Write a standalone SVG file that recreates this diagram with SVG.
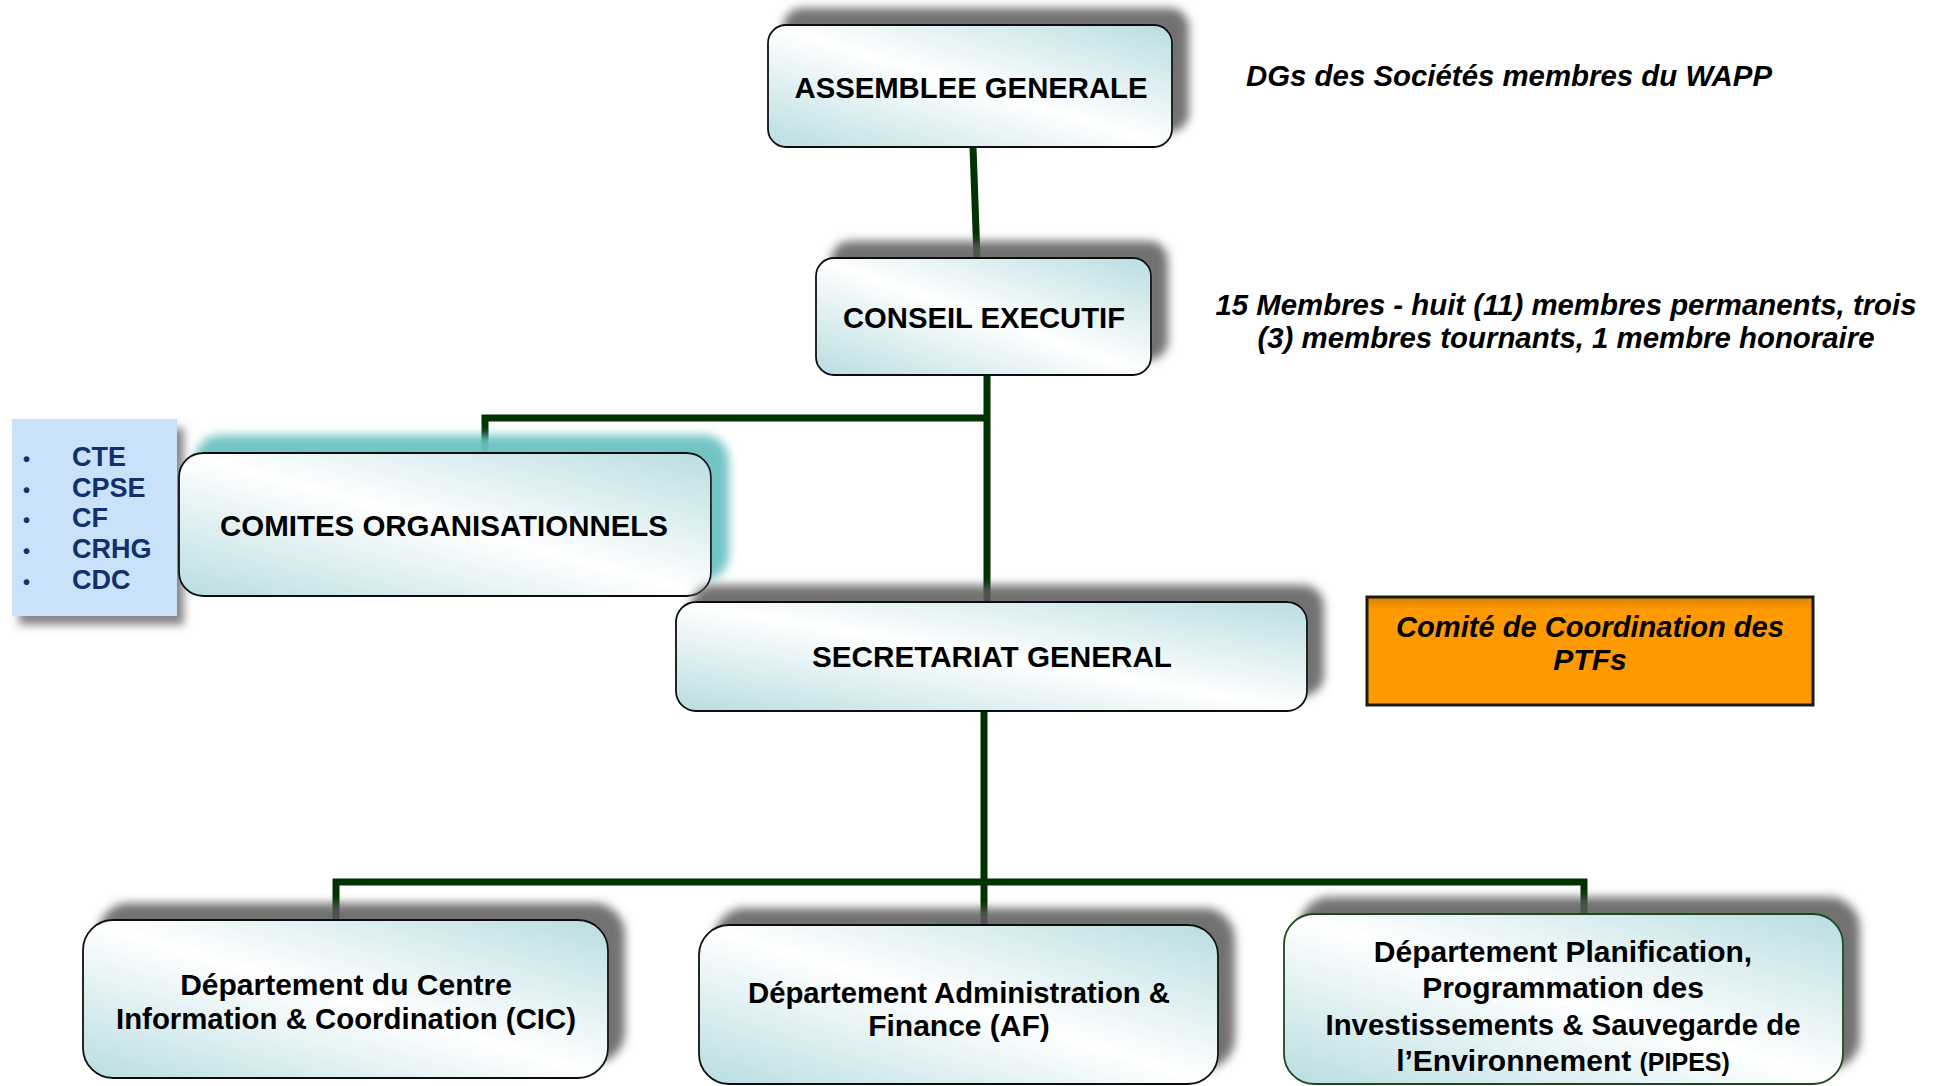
<svg xmlns="http://www.w3.org/2000/svg" width="1939" height="1086" viewBox="0 0 1939 1086">
<defs>
<linearGradient id="boxGrad" x1="0" y1="1" x2="1" y2="0">
<stop offset="0" stop-color="#B8DDE1"/>
<stop offset="0.5" stop-color="#FFFFFF"/>
<stop offset="1" stop-color="#B8DDE1"/>
</linearGradient>
<linearGradient id="orangeGrad" x1="0" y1="0" x2="0" y2="1">
<stop offset="0" stop-color="#D98200"/>
<stop offset="0.12" stop-color="#FF9900"/>
<stop offset="1" stop-color="#FF9900"/>
</linearGradient>
<filter id="shadow" x="-10%" y="-30%" width="125%" height="160%">
<feGaussianBlur in="SourceAlpha" stdDeviation="5"/>
<feOffset dx="16" dy="-16" result="b"/>
<feFlood flood-color="#5a5a5a" flood-opacity="0.85"/>
<feComposite in2="b" operator="in" result="s"/>
<feMerge><feMergeNode in="s"/><feMergeNode in="SourceGraphic"/></feMerge>
</filter>
<filter id="tealShadow" x="-10%" y="-30%" width="125%" height="160%">
<feGaussianBlur in="SourceAlpha" stdDeviation="5"/>
<feOffset dx="17" dy="-17" result="b"/>
<feFlood flood-color="#6CC2C2" flood-opacity="0.95"/>
<feComposite in2="b" operator="in" result="s"/>
<feMerge><feMergeNode in="s"/><feMergeNode in="SourceGraphic"/></feMerge>
</filter>
<filter id="listShadow" x="-20%" y="-20%" width="150%" height="150%">
<feGaussianBlur in="SourceAlpha" stdDeviation="4"/>
<feOffset dx="7" dy="9" result="b"/>
<feFlood flood-color="#555" flood-opacity="0.7"/>
<feComposite in2="b" operator="in" result="s"/>
<feMerge><feMergeNode in="s"/><feMergeNode in="SourceGraphic"/></feMerge>
</filter>
</defs>
<style>
.box{fill:url(#boxGrad);stroke:#111;stroke-width:1.8}
.lbl{font-family:"Liberation Sans",Arial,sans-serif;font-weight:bold;font-size:30px;fill:#000;text-anchor:middle}
.note{font-family:"Liberation Sans",Arial,sans-serif;font-weight:bold;font-style:italic;font-size:30px;fill:#000}
.list{font-family:"Liberation Sans",Arial,sans-serif;font-weight:bold;font-size:27px;fill:#12306E}
.conn{fill:none;stroke:#003300;stroke-width:7;stroke-linejoin:miter;stroke-linecap:butt}
</style>
<rect width="1939" height="1086" fill="#FFFFFF"/>

<g id="connectors">
<path class="conn" d="M973,147 L977,258"/>
<path class="conn" d="M987,375 V602"/>
<path class="conn" d="M987,418 H485 V453"/>
<path class="conn" d="M984,711 V882"/>
<path class="conn" d="M336,920 V882 H1584 V914"/>
<path class="conn" d="M984,882 V925"/>
</g>

<g id="assemblee">
<rect class="box" x="768" y="25" width="404" height="122" rx="18" filter="url(#shadow)"/>
<text class="lbl" x="971" y="98" textLength="353" lengthAdjust="spacingAndGlyphs">ASSEMBLEE GENERALE</text>
</g>

<g id="note-dgs">
<text class="note" x="1246" y="86" textLength="526" lengthAdjust="spacingAndGlyphs">DGs des Sociétés membres du WAPP</text>
</g>

<g id="conseil">
<rect class="box" x="816" y="258" width="335" height="117" rx="18" filter="url(#shadow)"/>
<text class="lbl" x="984" y="328" textLength="282" lengthAdjust="spacingAndGlyphs">CONSEIL EXECUTIF</text>
</g>

<g id="note-membres">
<text class="note" x="1566" y="315" text-anchor="middle" textLength="701" lengthAdjust="spacingAndGlyphs">15 Membres - huit (11) membres permanents, trois</text>
<text class="note" x="1566" y="348" text-anchor="middle" textLength="617" lengthAdjust="spacingAndGlyphs">(3) membres tournants, 1 membre honoraire</text>
</g>

<g id="liste-comites">
<rect x="12" y="419" width="165" height="197" fill="#C9E1F9" filter="url(#listShadow)"/>
<g class="list">
<text x="23" y="466" font-size="20">•</text><text x="72" y="466">CTE</text>
<text x="23" y="497" font-size="20">•</text><text x="72" y="497">CPSE</text>
<text x="23" y="527" font-size="20">•</text><text x="72" y="527">CF</text>
<text x="23" y="558" font-size="20">•</text><text x="72" y="558">CRHG</text>
<text x="23" y="589" font-size="20">•</text><text x="72" y="589">CDC</text>
</g>
</g>

<g id="comites">
<rect class="box" x="179" y="453" width="532" height="143" rx="24" filter="url(#tealShadow)"/>
<text class="lbl" x="444" y="536" textLength="448" lengthAdjust="spacingAndGlyphs">COMITES ORGANISATIONNELS</text>
</g>

<g id="secretariat">
<rect class="box" x="676" y="602" width="631" height="109" rx="20" filter="url(#shadow)"/>
<text class="lbl" x="992" y="667" textLength="360" lengthAdjust="spacingAndGlyphs">SECRETARIAT GENERAL</text>
</g>

<g id="comite-ptf">
<rect x="1367" y="597" width="446" height="108" fill="url(#orangeGrad)" stroke="#1a1a1a" stroke-width="3"/>
<text class="note" x="1590" y="637" text-anchor="middle" textLength="388" lengthAdjust="spacingAndGlyphs">Comité de Coordination des</text>
<text class="note" x="1590" y="670" text-anchor="middle">PTFs</text>
</g>

<g id="dept-cic">
<rect class="box" x="83" y="920" width="525" height="158" rx="30" filter="url(#shadow)"/>
<text class="lbl" x="346" y="995">Département du Centre</text>
<text class="lbl" x="346" y="1029" textLength="460" lengthAdjust="spacingAndGlyphs">Information &amp; Coordination (CIC)</text>
</g>

<g id="dept-af">
<rect class="box" x="699" y="925" width="519" height="159" rx="30" filter="url(#shadow)"/>
<text class="lbl" x="959" y="1003" textLength="422" lengthAdjust="spacingAndGlyphs">Département Administration &amp;</text>
<text class="lbl" x="959" y="1036">Finance (AF)</text>
</g>

<g id="dept-pipes">
<rect class="box" x="1284" y="914" width="559" height="170" rx="30" style="stroke:#1E4A1E" filter="url(#shadow)"/>
<text class="lbl" x="1563" y="962">Département Planification,</text>
<text class="lbl" x="1563" y="998">Programmation des</text>
<text class="lbl" x="1563" y="1035" textLength="475" lengthAdjust="spacingAndGlyphs">Investissements &amp; Sauvegarde de</text>
<text class="lbl" x="1563" y="1071">l’Environnement <tspan font-size="25">(PIPES)</tspan></text>
</g>
</svg>
